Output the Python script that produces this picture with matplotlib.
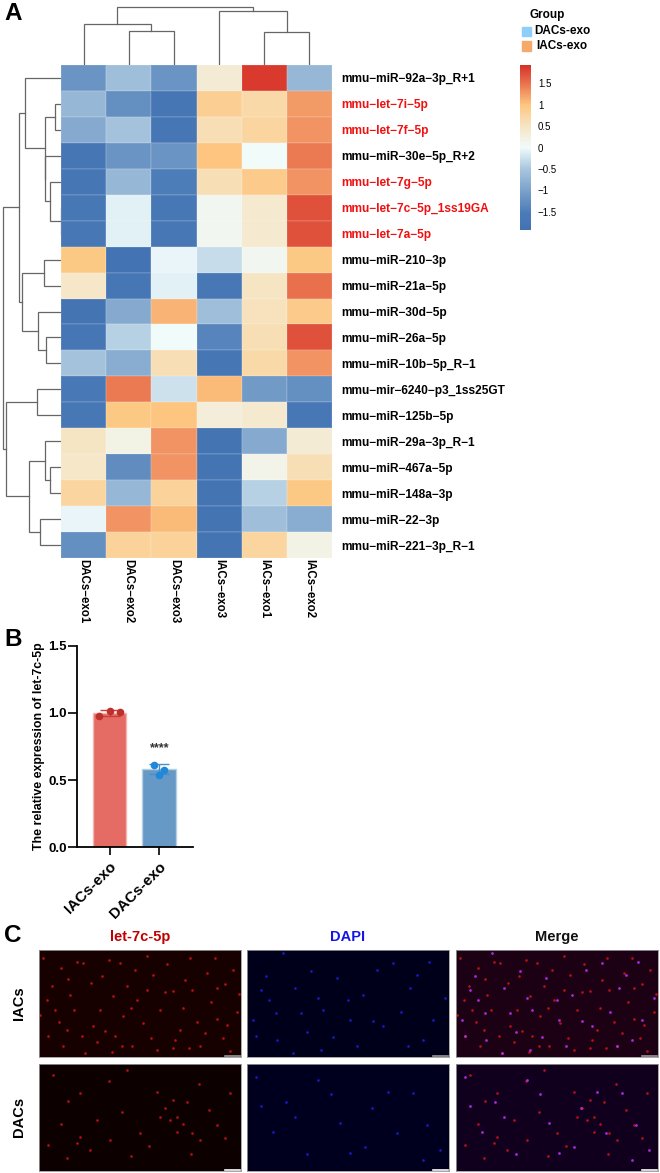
#! /usr/bin/env python3
# -*- coding:utf-8 -*-

import numpy as np
import matplotlib
matplotlib.use("Agg")
import matplotlib.pyplot as plt
from matplotlib.colors import LinearSegmentedColormap, Normalize
from matplotlib.cm import ScalarMappable

plt.rcParams['font.family'] = ['Liberation Sans', 'DejaVu Sans']

W, H = 660, 1173

# heatmap
row_labels = ["mmu−miR−92a−3p_R+1", "mmu−let−7i−5p", "mmu−let−7f−5p", "mmu−miR−30e−5p_R+2",
              "mmu−let−7g−5p", "mmu−let−7c−5p_1ss19GA", "mmu−let−7a−5p", "mmu−miR−210−3p",
              "mmu−miR−21a−5p", "mmu−miR−30d−5p", "mmu−miR−26a−5p", "mmu−miR−10b−5p_R−1",
              "mmu−mir−6240−p3_1ss25GT", "mmu−miR−125b−5p", "mmu−miR−29a−3p_R−1",
              "mmu−miR−467a−5p", "mmu−miR−148a−3p", "mmu−miR−22−3p", "mmu−miR−221−3p_R−1"]
red_rows = [1, 2, 4, 5, 6]
col_labels = ["DACs−exo1", "DACs−exo2", "DACs−exo3", "IACs−exo3", "IACs−exo1", "IACs−exo2"]
heat = [[-1.2, -0.6, -1.2, 0.35, 1.85, -0.7],
        [-0.7, -1.25, -1.75, 0.85, 0.7, 1.25],
        [-0.9, -0.55, -1.75, 0.6, 0.75, 1.3],
        [-1.75, -1.2, -1.2, 1.0, 0.0, 1.45],
        [-1.75, -0.7, -1.5, 0.6, 0.9, 1.3],
        [-1.7, -0.1, -1.7, 0.1, 0.4, 1.7],
        [-1.7, -0.1, -1.7, 0.1, 0.4, 1.7],
        [0.95, -1.85, -0.05, -0.3, 0.1, 0.95],
        [0.45, -1.75, -0.1, -1.7, 0.5, 1.5],
        [-1.8, -0.9, 1.1, -0.6, 0.55, 0.9],
        [-1.75, -0.4, 0.0, -1.4, 0.6, 1.7],
        [-0.55, -0.85, 0.6, -1.75, 0.7, 1.3],
        [-1.65, 1.45, -0.25, 1.05, -1.1, -1.25],
        [-1.7, 0.95, 1.0, 0.3, 0.4, -1.7],
        [0.5, 0.2, 1.3, -1.8, -0.9, 0.35],
        [0.45, -1.3, 1.3, -1.8, 0.15, 0.6],
        [0.75, -0.7, 0.8, -1.8, -0.4, 0.95],
        [-0.05, 1.3, 1.05, -1.8, -0.6, -0.85],
        [-1.25, 0.8, 0.8, -1.8, 0.75, 0.2]]
cbar_ticks = [-1.5, -1, -0.5, 0, 0.5, 1, 1.5]
cbar_ticklabels = ["−1.5", "−1", "−0.5", "0", "0.5", "1", "1.5"]

# dendrograms: (left node, right node, height), new nodes are numbered after the leaves
row_merges = [(5, 6, 0.3), (1, 2, 6), (4, 19, 11.3), (3, 21, 15.7), (20, 22, 16.4), (0, 23, 36.5),
              (7, 8, 17.5), (10, 11, 15.3), (9, 26, 23.5), (25, 27, 39.5), (24, 28, 42),
              (12, 13, 24.3), (15, 16, 11.3), (14, 31, 16), (17, 18, 21.3), (32, 33, 32.3),
              (30, 34, 55.3), (29, 35, 57.7)]
col_merges = [(1, 2, 34), (0, 6, 41), (4, 5, 33.5), (3, 8, 54.5), (7, 9, 58)]

# bar chart
groups = ["IACs-exo", "DACs-exo"]
bar_means = [1.0, 0.58]
bar_sd = [0.025, 0.038]
iacs_x = [-0.21, 0.0, 0.21]
iacs_pts = [0.977, 1.012, 1.005]
dacs_x = [0.89, 1.0, 1.1]
dacs_pts = [0.615, 0.54, 0.578]

# bright spots of the micrographs, pixels inside a 202x107 panel
iac_red = [(151, 8), (46, 103), (73, 102), (9, 86), (43, 86), (16, 60), (31, 45), (98, 50), (66, 81),
           (54, 76), (161, 96), (178, 69), (83, 96), (134, 41), (61, 60), (13, 36), (29, 29), (63, 26),
           (104, 73), (121, 60), (93, 96), (153, 40), (166, 83), (188, 75), (194, 20), (191, 101),
           (4, 8), (74, 46), (44, 13), (114, 25), (141, 80), (28, 80), (168, 23), (81, 13), (108, 6),
           (1, 65), (134, 98), (178, 38), (22, 18), (35, 60), (52, 33), (70, 10), (88, 36), (96, 20),
           (112, 88), (126, 42), (144, 58), (158, 72), (172, 52), (184, 88), (198, 62), (8, 50),
           (24, 96), (58, 92), (84, 66), (128, 14), (146, 30), (176, 8), (108, 40), (20, 72),
           (38, 12), (76, 86), (92, 58), (136, 90), (150, 98), (186, 34), (200, 44), (118, 100)]
iac_blue = [(9, 86), (14, 40), (36, 3), (64, 21), (71, 48), (54, 63), (29, 63), (74, 100), (46, 103),
            (76, 60), (6, 70), (19, 26), (48, 38), (126, 71), (161, 96), (101, 50), (163, 38), (136, 76),
            (198, 48), (170, 25), (116, 45), (86, 87), (176, 90), (146, 13), (103, 70), (30, 90),
            (90, 28), (130, 20), (154, 62), (186, 70), (60, 82), (110, 96), (22, 50), (182, 12)]
dac_red = [(70, 17), (118, 28), (138, 53), (178, 61), (41, 29), (29, 37), (41, 73), (9, 81), (83, 48),
           (148, 38), (191, 29), (138, 68), (38, 79), (51, 86), (121, 53), (153, 69), (131, 56),
           (101, 69), (161, 76), (71, 76), (88, 6), (14, 11), (126, 44), (144, 60), (170, 46),
           (110, 82), (58, 56), (22, 60), (92, 92), (186, 74), (160, 20), (134, 36), (28, 94), (152, 90)]
dac_blue = [(71, 16), (48, 53), (39, 38), (9, 13), (26, 68), (118, 83), (180, 61), (141, 28), (103, 89),
            (150, 69), (125, 44), (166, 29), (93, 59), (193, 86), (60, 90), (14, 42), (84, 30), (176, 96)]


def px_axes(fig, x0, y0, x1, y1):
    # axes from pixel box, y counted from the top
    return fig.add_axes([x0 / W, 1 - y1 / H, (x1 - x0) / W, (y1 - y0) / H])


def dendro_segments(merges, n):
    pos = {i: i + 0.5 for i in range(n)}
    hgt = {i: 0 for i in range(n)}
    segs = []
    for k, (a, b, h) in enumerate(merges):
        segs.append(([pos[a], pos[a], pos[b], pos[b]], [hgt[a], h, h, hgt[b]]))
        pos[n + k] = (pos[a] + pos[b]) / 2
        hgt[n + k] = h
    return segs


fig = plt.figure(figsize=(W / 100, H / 100), dpi=100)

# panel letters
for letter, y in zip("ABC", [13, 640, 936]):
    fig.text(4 / W, 1 - y / H, letter, fontsize=17.5, fontweight='bold', va='center', ha='left')

# A heatmap
cmap = LinearSegmentedColormap.from_list("heat", [
    (0.0, "#4372b2"), (0.1, "#4b7bb7"), (0.37, "#a9c6de"), (0.5, "#f0fbfb"), (0.63, "#f6e5c4"),
    (0.76, "#fdc67f"), (0.895, "#e86f4d"), (1.0, "#d73027")])
norm = Normalize(-1.92, 1.92)

ax = px_axes(fig, 61, 65, 332, 558)
ax.pcolormesh(np.array(heat), cmap=cmap, norm=norm, edgecolor='#ffffff18', linewidth=0.3)
ax.set_xlim(0, len(col_labels))
ax.set_ylim(len(row_labels), 0)
ax.xaxis.tick_bottom()
ax.yaxis.tick_right()
ax.set_xticks(np.arange(len(col_labels)) + 0.5)
ax.set_xticklabels(col_labels, rotation=270, fontsize=8.3, fontweight='bold')
ax.set_yticks(np.arange(len(row_labels)) + 0.5)
ax.set_yticklabels(row_labels, fontsize=8.55, fontweight='bold')
ax.tick_params(axis='x', length=0, pad=1)
ax.tick_params(axis='y', length=0, pad=7)
for i in red_rows:
    ax.get_yticklabels()[i].set_color('#f01010')
for s in ax.spines.values():
    s.set_visible(False)

# row dendrogram
dr = px_axes(fig, 0, 65, 61, 558)
for ys, xs in dendro_segments(row_merges, len(row_labels)):
    dr.plot(xs, ys, color='#666666', lw=0.9, solid_joinstyle='miter')
dr.set_xlim(61, 0)
dr.set_ylim(len(row_labels), 0)
dr.axis('off')

# column dendrogram
dc = px_axes(fig, 61, 0, 332, 65)
for xs, ys in dendro_segments(col_merges, len(col_labels)):
    dc.plot(xs, ys, color='#666666', lw=0.9, solid_joinstyle='miter')
dc.set_xlim(0, len(col_labels))
dc.set_ylim(0, 65)
dc.axis('off')

# group legend
fig.text(530 / W, 1 - 15 / H, "Group", fontsize=8.5, fontweight='bold', va='center')
for label, color, y, tx in [("DACs-exo", "#8ecffa", 31.5, 534), ("IACs-exo", "#f5a96b", 46, 536)]:
    fig.patches.append(plt.Rectangle((522 / W, 1 - (y + 4.5) / H), 9 / W, 9 / H,
                                     transform=fig.transFigure, color=color, figure=fig))
    fig.text(tx / W, 1 - y / H, label, fontsize=8.5, fontweight='bold', va='center')

# colorbar
cax = px_axes(fig, 520, 65, 531, 230)
cb = fig.colorbar(ScalarMappable(norm=norm, cmap=cmap), cax=cax)
cb.set_ticks(cbar_ticks)
cb.set_ticklabels(cbar_ticklabels)
cb.ax.tick_params(length=0, labelsize=7, pad=5)
cb.outline.set_visible(False)

# B bars
bx = px_axes(fig, 77, 645.7, 193, 847.3)
bx.bar([0, 1], bar_means, width=0.68, color=['#e56b65', '#6699c5'],
       edgecolor=['#f3b6b3', '#b5cfe3'], linewidth=1)
bx.errorbar([0], bar_means[0], yerr=bar_sd[0], color='#c8403a', capsize=7, lw=1, capthick=1)
bx.errorbar([1], bar_means[1], yerr=bar_sd[1], color='#4a8fc9', capsize=7, lw=1, capthick=1)
bx.scatter(iacs_x, iacs_pts, s=20, color='#c0302a', zorder=3, clip_on=False)
bx.scatter(dacs_x, dacs_pts, s=20, color='#1f88d8', zorder=3, clip_on=False)
bx.text(1.02, 0.69, "****", ha='center', va='bottom', fontsize=9, fontweight='bold', color='#333333')
bx.set_xlim(-0.657, 1.687)
bx.set_ylim(0, 1.5)
bx.set_xticks([0, 1])
bx.set_xticklabels(groups, rotation=45, ha='right', rotation_mode='anchor', fontsize=11, fontweight='bold')
bx.set_yticks([0, 0.5, 1.0, 1.5])
bx.set_yticklabels(["0.0", "0.5", "1.0", "1.5"], fontsize=9.5, fontweight='bold')
bx.set_ylabel("The relative expression of let-7c-5p", fontsize=8.9, fontweight='bold', labelpad=2)
bx.tick_params(axis='x', width=1.2, length=5.8, pad=3)
bx.tick_params(axis='y', width=1.2, length=6.5, pad=1)
for s in ['top', 'right']:
    bx.spines[s].set_visible(False)
for s in ['left', 'bottom']:
    bx.spines[s].set_linewidth(1.3)

# C micrographs
col_x = [39, 247, 456]
row_y = [950, 1064]
titles = [("let-7c-5p", '#c00000'), ("DAPI", '#1515e8'), ("Merge", '#111111')]
row_names = ["IACs", "DACs"]
panels = [[(iac_red, '#170000', []), (iac_blue, '#00001a', []), (iac_red, '#1c0014', iac_blue)],
          [(dac_red, '#0c0000', []), (dac_blue, '#00001e', []), (dac_red, '#10001e', dac_blue)]]
for r, y0 in enumerate(row_y):
    for c, x0 in enumerate(col_x):
        first, bg, second = panels[r][c]
        im = px_axes(fig, x0, y0, x0 + 202, y0 + 107)
        im.set_facecolor(bg)
        base = '#2020ff' if c == 1 else '#e81414'
        im.scatter(*zip(*first), s=3.5, color=base, linewidths=0, alpha=0.8)
        if second:
            im.scatter(*zip(*second), s=4, color='#c030ff', linewidths=0, alpha=0.85)
        # scale bar
        im.plot([186, 201], [105.5, 105.5], color='#999999' if r == 0 else '#ffffff', lw=1.2)
        im.set_xlim(0, 202)
        im.set_ylim(107, 0)
        im.set_xticks([])
        im.set_yticks([])
        for s in im.spines.values():
            s.set_color('#999999')
            s.set_linewidth(0.6)

for (title, color), x0 in zip(titles, col_x):
    fig.text((x0 + 101) / W, 1 - 937 / H, title, color=color, fontsize=10.5, fontweight='bold',
             ha='center', va='center')
for name, y0 in zip(row_names, row_y):
    fig.text(19 / W, 1 - (y0 + 53) / H, name, fontsize=10.5, fontweight='bold', rotation=90,
             ha='center', va='center')

fig.savefig("out.png", dpi=100)
